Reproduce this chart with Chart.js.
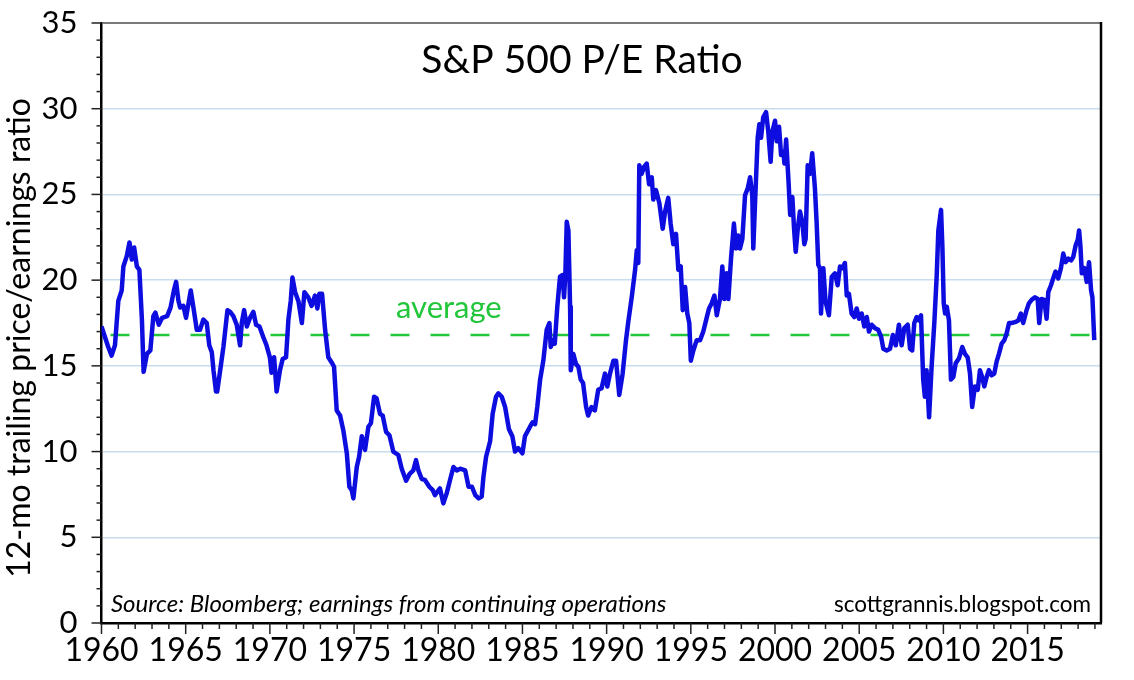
<!DOCTYPE html>
<html lang="en">
<head>
	<meta charset="UTF-8">
	<title>S&amp;P 500 P/E Ratio</title>
	<script src="https://cdn.jsdelivr.net/npm/chart.js@4.4.1/dist/chart.umd.min.js"></script>
	<style>
		html, body { margin: 0; padding: 0; background: #fff; }
		#wrap { width: 1134px; height: 680px; }
	</style>
</head>
<body>
	<div id="wrap"><canvas id="myChart" width="1134" height="680"></canvas></div>

	<script>
	// dates (decimal years) and trailing 12-mo P/E
	let dates = [
		1960.0, 1960.2, 1960.4, 1960.6, 1960.8, 1961.0, 1961.2, 1961.3, 1961.5, 1961.66, 1961.8, 1961.94,
		1962.1, 1962.25, 1962.4, 1962.5, 1962.7, 1962.9, 1963.08, 1963.2, 1963.4, 1963.6, 1963.9,
		1964.1, 1964.3, 1964.43, 1964.57, 1964.67, 1964.86, 1965.02, 1965.16, 1965.3, 1965.46, 1965.66, 1965.85,
		1966.05, 1966.25, 1966.4, 1966.55, 1966.65, 1966.8, 1966.87, 1967.05, 1967.24, 1967.48, 1967.64, 1967.83,
		1968.03, 1968.23, 1968.33, 1968.47, 1968.63, 1968.82, 1969.02, 1969.18, 1969.38, 1969.6, 1969.8,
		1970.0, 1970.1, 1970.25, 1970.4, 1970.6, 1970.76, 1970.96, 1971.1, 1971.24, 1971.34, 1971.5, 1971.7, 1971.9,
		1972.05, 1972.28, 1972.48, 1972.68, 1972.82, 1972.94, 1973.1, 1973.28, 1973.47, 1973.67, 1973.81, 1973.97,
		1974.17, 1974.36, 1974.57, 1974.72, 1974.86, 1974.96, 1975.16, 1975.3, 1975.46, 1975.65, 1975.85,
		1976.0, 1976.19, 1976.34, 1976.54, 1976.7, 1976.9, 1977.1, 1977.33, 1977.63, 1977.83,
		1978.09, 1978.3, 1978.52, 1978.68, 1978.82, 1979.02, 1979.2, 1979.47, 1979.67, 1979.8, 1979.95,
		1980.1, 1980.3, 1980.5, 1980.7, 1980.9, 1981.1, 1981.3, 1981.6, 1981.8, 1982.0, 1982.2, 1982.4, 1982.58,
		1982.68, 1982.84, 1983.08, 1983.23, 1983.43, 1983.57, 1983.77, 1983.97, 1984.2, 1984.4, 1984.56, 1984.75,
		1985.0, 1985.15, 1985.45, 1985.6, 1985.75, 1985.88, 1986.05, 1986.24, 1986.44, 1986.6, 1986.68, 1986.84, 1986.92,
		1987.07, 1987.23, 1987.39, 1987.47, 1987.55, 1987.63, 1987.73, 1987.83, 1987.87, 1988.02, 1988.18, 1988.32,
		1988.46, 1988.6, 1988.78, 1988.9, 1989.1, 1989.3, 1989.5, 1989.7, 1989.9,
		1990.04, 1990.2, 1990.4, 1990.56, 1990.75, 1990.95, 1991.15, 1991.29, 1991.49, 1991.69, 1991.79, 1991.88, 1991.94,
		1992.08, 1992.22, 1992.38, 1992.52, 1992.68, 1992.77, 1992.93, 1993.13, 1993.33, 1993.47, 1993.66, 1993.8, 1993.96,
		1994.12, 1994.26, 1994.4, 1994.52, 1994.66, 1994.79, 1994.91, 1995.0, 1995.15, 1995.35, 1995.55, 1995.74, 1995.94,
		1996.08, 1996.24, 1996.4, 1996.54, 1996.73, 1996.87, 1996.99, 1997.13, 1997.23, 1997.39, 1997.56, 1997.68, 1997.82, 1997.92,
		1998.06, 1998.22, 1998.38, 1998.52, 1998.65, 1998.71, 1998.81, 1998.97, 1999.07, 1999.17, 1999.3, 1999.47, 1999.6, 1999.74, 1999.84,
		2000.0, 2000.1, 2000.24, 2000.36, 2000.5, 2000.56, 2000.66, 2000.8, 2000.9, 2001.03, 2001.13, 2001.23, 2001.35, 2001.48,
		2001.62, 2001.74, 2001.82, 2001.94, 2002.08, 2002.21, 2002.37, 2002.47, 2002.57, 2002.67, 2002.73, 2002.87,
		2003.0, 2003.2, 2003.37, 2003.56, 2003.72, 2003.86, 2004.0, 2004.15, 2004.26, 2004.39, 2004.55, 2004.71, 2004.85, 2004.99,
		2005.15, 2005.3, 2005.45, 2005.58, 2005.74, 2005.94, 2006.13, 2006.3, 2006.43, 2006.63, 2006.83,
		2007.0, 2007.17, 2007.36, 2007.52, 2007.68, 2007.88, 2008.02, 2008.15, 2008.27, 2008.41, 2008.55, 2008.67, 2008.8, 2008.9,
		2009.0, 2009.15, 2009.3, 2009.46, 2009.6, 2009.7, 2009.86, 2009.94, 2010.02, 2010.1, 2010.2, 2010.33, 2010.45, 2010.59, 2010.73, 2010.93,
		2011.12, 2011.28, 2011.44, 2011.58, 2011.71, 2011.87, 2012.04, 2012.17, 2012.3, 2012.43, 2012.57, 2012.7, 2012.86,
		2013.02, 2013.16, 2013.3, 2013.46, 2013.62, 2013.76, 2013.9, 2014.05, 2014.25, 2014.45, 2014.6, 2014.74, 2014.94,
		2015.08, 2015.24, 2015.44, 2015.6, 2015.69, 2015.83, 2015.99, 2016.13, 2016.23, 2016.39, 2016.52, 2016.66, 2016.82, 2016.98,
		2017.12, 2017.26, 2017.42, 2017.58, 2017.71, 2017.86, 2017.98, 2018.06, 2018.14, 2018.22, 2018.37, 2018.51, 2018.65, 2018.77, 2018.85, 2018.96
	]
	let pe = [
		17.3, 16.7, 16.1, 15.6, 16.2, 18.8, 19.4, 20.8, 21.4, 22.2, 21.2, 21.9,
		20.8, 20.6, 17.7, 14.65, 15.7, 15.9, 17.9, 18.1, 17.4, 17.8, 17.9,
		18.4, 19.4, 19.9, 18.8, 18.4, 18.5, 17.8, 18.6, 19.4, 18.4, 17.1, 17.1,
		17.7, 17.5, 16.2, 15.8, 14.75, 13.5, 13.5, 14.75, 16.1, 18.25, 18.15, 17.9,
		17.4, 16.2, 17.5, 18.25, 17.3, 17.8, 18.15, 17.4, 17.3, 16.7, 16.2,
		15.5, 14.6, 15.5, 13.5, 14.75, 15.4, 15.5, 17.7, 18.8, 20.15, 19.3, 18.75, 17.5,
		19.3, 19.0, 18.5, 19.1, 18.35, 19.2, 19.2, 17.1, 15.5, 15.2, 14.95, 12.4,
		12.1, 11.25, 9.9, 7.95, 7.75, 7.27, 9.1, 9.7, 10.9, 10.1, 11.45,
		11.65, 13.2, 13.1, 12.2, 12.1, 11.15, 10.95, 10.0, 9.8, 9.0,
		8.3, 8.7, 8.9, 9.5, 8.9, 8.4, 8.35, 7.95, 7.75, 7.46, 7.66,
		7.85, 6.98, 7.56, 8.34, 9.1, 8.9, 9.0, 8.9, 7.95, 7.95, 7.46, 7.27, 7.37,
		8.5, 9.7, 10.6, 12.2, 13.2, 13.4, 13.2, 12.6, 11.3, 10.9, 10.0, 10.2,
		9.9, 10.9, 11.45, 11.7, 11.6, 12.6, 14.2, 15.3, 17.1, 17.5, 16.1, 16.5, 16.3,
		18.45, 20.2, 20.3, 19.0, 20.4, 23.4, 22.9, 18.45, 14.75, 15.7, 15.1, 14.95,
		14.2, 14.0, 12.6, 12.1, 12.6, 12.4, 13.6, 13.7, 14.55,
		13.8, 14.55, 15.3, 15.3, 13.3, 14.55, 16.5, 17.6, 19.0, 20.6, 21.75, 21.0, 26.7,
		26.2, 26.6, 26.8, 25.6, 26.0, 24.7, 25.25, 24.5, 23.0, 24.0, 24.8, 23.3, 22.1,
		22.7, 20.6, 20.8, 18.25, 19.6, 18.05, 17.5, 15.3, 15.9, 16.5, 16.5, 17.0, 17.8,
		18.35, 18.65, 19.1, 17.95, 18.9, 20.8, 18.9, 20.4, 18.9, 21.3, 23.3, 21.85, 22.6, 21.85,
		22.4, 24.95, 25.35, 26.0, 24.95, 21.85, 24.4, 28.3, 29.1, 28.3, 29.5, 29.8, 28.65, 26.9, 28.65,
		29.3, 28.1, 28.95, 27.3, 27.5, 26.8, 28.2, 25.8, 23.8, 24.85, 23.0, 21.65, 23.0, 24.0,
		23.4, 22.1, 22.4, 26.7, 26.2, 27.4, 25.35, 23.4, 20.9, 20.7, 18.05, 20.7,
		18.75, 17.95, 20.2, 20.4, 19.7, 20.8, 20.7, 21.0, 19.1, 19.2, 18.05, 17.85, 18.35, 17.75,
		18.05, 17.3, 17.85, 17.0, 17.4, 17.2, 17.1, 16.7, 16.0, 15.9, 16.0,
		16.8, 16.2, 17.4, 16.2, 17.2, 17.4, 16.0, 15.9, 17.5, 17.85, 17.65, 17.95, 14.2, 13.2,
		14.75, 12.0, 14.95, 17.5, 20.2, 22.9, 24.1, 21.95, 18.65, 18.05, 18.45, 17.65, 14.2, 14.35, 15.15, 15.45,
		16.1, 15.7, 15.5, 14.55, 12.6, 13.8, 13.6, 14.75, 14.35, 13.8, 14.35, 14.75, 14.45,
		14.55, 15.25, 15.7, 16.3, 16.5, 16.9, 17.5, 17.5, 17.55, 17.65, 18.05, 17.5, 18.25,
		18.65, 18.85, 19.0, 18.9, 17.5, 18.9, 18.85, 17.75, 19.3, 19.7, 20.1, 20.5, 20.1, 20.7,
		21.55, 21.05, 21.25, 21.15, 21.35, 22.05, 22.35, 22.9, 21.95, 20.4, 20.7, 19.9, 21.05, 19.4, 19.0, 16.5
	]
	let average = 16.8
	let xTicks = [1960, 1965, 1970, 1975, 1980, 1985, 1990, 1995, 2000, 2005, 2010, 2015]
	let yTicks = [0, 5, 10, 15, 20, 25, 30, 35]
	let xMin = 1960, xMax = 2019.36

	const FONT = 'Lato, "Open Sans", sans-serif'

	// ticks, right frame and the free text
	const decor = {
		id: 'decor',
		afterDraw(chart) {
			const { ctx, chartArea: a, scales: { x, y } } = chart
			ctx.save()
			ctx.strokeStyle = '#000'
			ctx.lineWidth = 2.5
			ctx.beginPath()
			ctx.moveTo(a.right, a.top - 1)
			ctx.lineTo(a.right, a.bottom)
			ctx.stroke()

			ctx.lineWidth = 1.5
			ctx.strokeStyle = '#222'
			for (let v = 0; v <= 35; v++) {
				let py = y.getPixelForValue(v)
				let len = v % 5 ? 5 : 10
				ctx.beginPath(); ctx.moveTo(a.left - len, py); ctx.lineTo(a.left, py); ctx.stroke()
			}
			for (let yr = 1960; yr <= 2019; yr++) {
				let px = x.getPixelForValue(yr)
				let len = yr % 5 ? 6 : 11
				ctx.beginPath(); ctx.moveTo(px, a.bottom); ctx.lineTo(px, a.bottom + len); ctx.stroke()
			}

			ctx.fillStyle = '#000'
			ctx.textBaseline = 'alphabetic'
			ctx.textAlign = 'center'
			ctx.font = '39px ' + FONT
			ctx.fillText('S&P 500 P/E Ratio', 582, 73)

			ctx.save()
			ctx.translate(30, 338)
			ctx.rotate(-Math.PI / 2)
			ctx.font = '32px ' + FONT
			ctx.fillText('12-mo trailing price/earnings ratio', 0, 0)
			ctx.restore()

			ctx.textAlign = 'left'
			ctx.font = 'italic 24px ' + FONT
			ctx.fillText('Source: Bloomberg; earnings from continuing operations', 111, 612)
			ctx.textAlign = 'right'
			ctx.font = '22.5px ' + FONT
			ctx.fillText('scottgrannis.blogspot.com', 1091, 612)

			ctx.textAlign = 'left'
			ctx.fillStyle = '#22c63a'
			ctx.font = '31px ' + FONT
			ctx.fillText('average', 396, 318)
			ctx.restore()
		}
	}

	var ctx = document.getElementById('myChart').getContext('2d')
	var chart = new Chart(ctx, {
		type: 'line',
		data: {
			datasets: [{
				label: 'P/E',
				data: dates.map((d, i) => ({ x: d, y: pe[i] })),
				borderColor: '#0d0de0',
				borderWidth: 4.5,
				borderJoinStyle: 'round',
				pointRadius: 0,
				tension: 0,
				order: 1
			}, {
				label: 'average',
				data: [{ x: xMin, y: average }, { x: xMax, y: average }],
				borderColor: '#22c63a',
				borderWidth: 2.5,
				borderDash: [19, 21],
				borderDashOffset: 31,
				pointRadius: 0,
				order: 2
			}]
		},
		options: {
			responsive: false,
			animation: false,
			layout: { padding: { top: 23, right: 33, left: 0, bottom: 0 } },
			plugins: { legend: { display: false }, tooltip: { enabled: false } },
			scales: {
				x: {
					type: 'linear',
					min: xMin,
					max: xMax,
					afterFit: (s) => { s.height = 57; s.paddingLeft = 0; s.paddingRight = 0 },
					afterBuildTicks: (s) => { s.ticks = xTicks.map(v => ({ value: v })) },
					ticks: {
						autoSkip: false,
						maxRotation: 0,
						padding: 8,
						color: '#000',
						font: { family: FONT, size: 32 },
						callback: (v) => String(v)
					},
					grid: { drawOnChartArea: false, drawTicks: false },
					border: { display: true, color: '#000', width: 2.5 }
				},
				y: {
					min: 0,
					max: 35,
					afterFit: (s) => { s.width = 101.5; s.paddingTop = 0; s.paddingBottom = 0 },
					afterBuildTicks: (s) => { s.ticks = yTicks.map(v => ({ value: v })) },
					ticks: {
						padding: 24,
						color: '#000',
						font: { family: FONT, size: 31 },
						callback: (v) => String(v)
					},
					grid: {
						drawTicks: false,
						color: (c) => c.tick.value === 35 ? '#7a7a7a' : (c.tick.value === 0 ? 'rgba(0,0,0,0)' : '#c8dcee'),
						lineWidth: (c) => c.tick.value === 35 ? 2 : 1.5
					},
					border: { display: true, color: '#000', width: 2.5 }
				}
			}
		},
		plugins: [decor]
	})
	</script>
</body>
</html>
